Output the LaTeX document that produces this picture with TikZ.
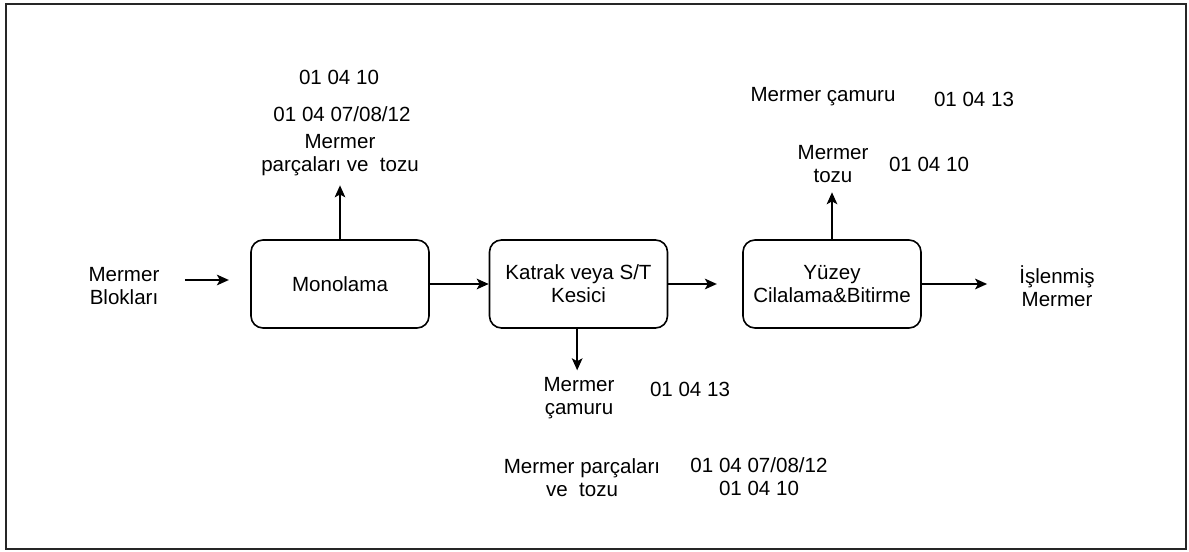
\documentclass[tikz,border=0pt]{standalone}
\usepackage{fontspec}
\setmainfont{Liberation Sans}
\usetikzlibrary{positioning, calc, arrows.meta}

\tikzset{
    surec/.style={draw, rounded corners=9pt, line width=1.2pt, minimum width=133.5pt,
        minimum height=66pt, align=center, inner sep=0pt},
    etiket/.style={inner sep=0pt, align=center},
    ok/.style={-{Stealth[length=9pt, width=8pt, inset=2.2pt]}, line width=1.1pt}
}

\begin{document}
\begin{tikzpicture}[x=0.75pt, y=-0.75pt, font=\fontsize{15.4}{17.3}\selectfont]
    \useasboundingbox (0,0) rectangle (1189,552);
    % Outer frame
    \draw[line width=1.6pt, black!85] (6,4) rectangle (1186,549);

    % Process boxes
    \node[surec] (mono) at (340,284) {Monolama};
    \node[surec] (katrak) at (578.5,284) {Katrak veya S/T\\Kesici};
    \node[surec] (yuzey) at (832,284) {Yüzey\\Cilalama\&Bitirme};

    % Input and output
    \node[etiket] (giris) at (124,286) {Mermer\\Blokları};
    \node[etiket] (cikis) at (1057,286) {İşlenmiş\\Mermer};

    % Waste labels
    \node[etiket] (kod1) at (339,77) {01 04 10};
    \node[etiket] (kod2) at (342,114) {01 04 07/08/12};
    \node[etiket] (parca) at (340,155) {Mermer\\parçaları ve~ tozu};

    \node[etiket] (camur1) at (823,97) {Mermer çamuru};
    \node[etiket] (kod3) at (974,99) {01 04 13};
    \node[etiket] (tozu) at (833,164) {Mermer\\tozu};
    \node[etiket] (kod4) at (929,164) {01 04 10};

    \node[etiket] (camur2) at (579,398) {Mermer\\çamuru};
    \node[etiket] (kod5) at (690,389) {01 04 13};
    \node[etiket] (parca2) at (582,478) {Mermer parçaları\\ve~ tozu};
    \node[etiket] (kod6) at (759,477) {01 04 07/08/12\\01 04 10};

    % Main flow
    \draw[ok, shorten <=19pt, shorten >=16pt] ([yshift=4.5pt]giris.east) -- ([yshift=4.5pt]giris.east -| mono.west);
    \draw[ok] (mono.east) -- (katrak.west);
    \draw[ok, shorten >=19pt] (katrak.east) -- (yuzey.west);
    \draw[ok, shorten >=24pt] (yuzey.east) -- (yuzey.east -| cikis.west);

    % Waste flows
    \draw[ok, shorten >=7pt] (mono.north) -- (mono.north |- parca.south);
    \draw[ok, shorten >=5pt] ([xshift=-1pt]katrak.south) -- ([xshift=-1pt]katrak.south |- camur2.north);
    \draw[ok, shorten >=7pt] (yuzey.north) -- (yuzey.north |- tozu.south);
\end{tikzpicture}
\end{document}
